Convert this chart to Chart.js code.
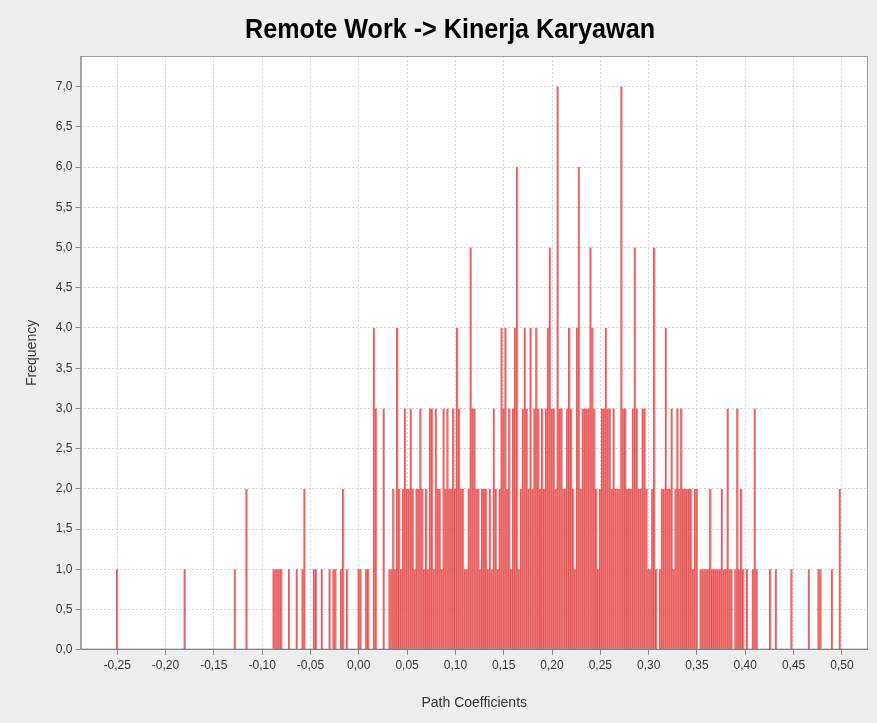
<!DOCTYPE html>
<html>
<head>
    <title>Remote Work -> Kinerja Karyawan</title>
    <script src="https://cdn.jsdelivr.net/npm/chart.js"></script>
    <style>
        html, body { margin: 0; padding: 0; background: #eeeeee; }
        #chart-container { position: relative; width: 877px; height: 723px; }
    </style>
</head>
<body>
    <div id="chart-container">
        <canvas id="myChart"></canvas>
    </div>

    <script>
        const chartTitle = 'Remote Work -> Kinerja Karyawan';
        const pathCoefficients = [
            -0.250, -0.180, -0.128, -0.116, -0.088, -0.086, -0.084, -0.082, -0.080, -0.072,
            -0.064, -0.058, -0.056, -0.046, -0.044, -0.038, -0.030, -0.026, -0.024, -0.018,
            -0.016, -0.012,
            0.000, 0.002, 0.008, 0.010, 0.016, 0.018, 0.026, 0.032, 0.034, 0.036,
            0.038, 0.040, 0.042, 0.044, 0.046, 0.048, 0.050, 0.052, 0.054, 0.056,
            0.058, 0.060, 0.062, 0.064, 0.066, 0.068, 0.070, 0.072, 0.074, 0.076,
            0.078, 0.080, 0.082, 0.084, 0.086, 0.088, 0.090, 0.092, 0.094, 0.096,
            0.098, 0.100, 0.102, 0.104, 0.106, 0.108, 0.110, 0.112, 0.114, 0.116,
            0.118, 0.120, 0.122, 0.124, 0.126, 0.128, 0.130, 0.132, 0.134, 0.136,
            0.138, 0.140, 0.142, 0.144, 0.146, 0.148, 0.150, 0.152, 0.154, 0.156,
            0.158, 0.160, 0.162, 0.164, 0.166, 0.168, 0.170, 0.172, 0.174, 0.176,
            0.178, 0.180, 0.182, 0.184, 0.186, 0.188, 0.190, 0.192, 0.194, 0.196,
            0.198, 0.200, 0.202, 0.204, 0.206, 0.208, 0.210, 0.212, 0.214, 0.216,
            0.218, 0.220, 0.222, 0.224, 0.226, 0.228, 0.230, 0.232, 0.234, 0.236,
            0.238, 0.240, 0.242, 0.244, 0.246, 0.248, 0.250, 0.252, 0.254, 0.256,
            0.258, 0.260, 0.262, 0.264, 0.266, 0.268, 0.270, 0.272, 0.274, 0.276,
            0.278, 0.280, 0.282, 0.284, 0.286, 0.288, 0.290, 0.292, 0.294, 0.296,
            0.298, 0.300, 0.302, 0.304, 0.306, 0.308, 0.312, 0.314, 0.316, 0.318,
            0.320, 0.322, 0.324, 0.326, 0.328, 0.330, 0.332, 0.334, 0.336, 0.338,
            0.340, 0.342, 0.344, 0.346, 0.348, 0.350, 0.354, 0.356, 0.358, 0.360,
            0.362, 0.364, 0.366, 0.368, 0.370, 0.372, 0.374, 0.376, 0.378, 0.380,
            0.382, 0.384, 0.386, 0.390, 0.392, 0.394, 0.396, 0.398, 0.402, 0.408,
            0.410, 0.412, 0.426, 0.432, 0.448, 0.466, 0.476, 0.478, 0.490, 0.498
        ];
        const frequency = [
            1, 1, 1, 2, 1, 1, 1, 1, 1, 1,
            1, 1, 2, 1, 1, 1, 1, 1, 1, 1,
            2, 1,
            1, 1, 1, 1, 4, 3, 3, 1, 1, 2,
            1, 4, 2, 1, 2, 3, 2, 2, 3, 2,
            1, 2, 2, 3, 2, 1, 2, 1, 3, 3,
            1, 3, 2, 2, 1, 3, 2, 3, 2, 2,
            3, 2, 4, 3, 2, 2, 1, 1, 2, 5,
            3, 3, 2, 2, 1, 2, 2, 2, 1, 2,
            1, 3, 2, 1, 2, 4, 3, 4, 2, 3,
            1, 3, 4, 6, 1, 2, 3, 4, 3, 2,
            4, 2, 3, 4, 3, 2, 3, 2, 3, 4,
            5, 3, 3, 2, 7, 3, 3, 2, 2, 3,
            4, 3, 2, 1, 4, 6, 2, 3, 3, 3,
            3, 5, 4, 3, 2, 1, 2, 3, 3, 4,
            3, 3, 2, 3, 2, 2, 2, 7, 3, 3,
            2, 2, 2, 3, 5, 3, 2, 2, 3, 3,
            2, 1, 1, 2, 5, 1, 1, 2, 2, 4,
            2, 2, 3, 1, 2, 3, 2, 3, 2, 2,
            2, 2, 2, 1, 2, 2, 1, 1, 1, 1,
            1, 2, 1, 1, 1, 1, 1, 2, 1, 1,
            3, 1, 1, 1, 3, 1, 2, 1, 1, 1,
            3, 1, 1, 1, 1, 1, 1, 1, 1, 2
        ];
        const xTickValues = [-0.25, -0.20, -0.15, -0.10, -0.05, 0.00, 0.05, 0.10, 0.15, 0.20, 0.25, 0.30, 0.35, 0.40, 0.45, 0.50];
        const yTickValues = [0, 0.5, 1, 1.5, 2, 2.5, 3, 3.5, 4, 4.5, 5, 5.5, 6, 6.5, 7];

        // Fondo gris, área blanca, marco y título estrecho
        const plotFrame = {
            id: 'plotFrame',
            beforeDraw(chart) {
                const { ctx, chartArea: a } = chart;
                ctx.save();
                ctx.fillStyle = '#eeeeee';
                ctx.fillRect(0, 0, chart.width, chart.height);
                ctx.fillStyle = '#ffffff';
                ctx.fillRect(a.left, a.top, a.right - a.left, a.bottom - a.top);
                ctx.restore();
            },
            afterDraw(chart) {
                const { ctx, chartArea: a } = chart;
                ctx.save();
                ctx.strokeStyle = '#a0a0a0';
                ctx.lineWidth = 1;
                ctx.strokeRect(a.left + 0.5, a.top + 0.5, a.right - a.left - 1, a.bottom - a.top - 1);
                ctx.strokeStyle = '#7a7a7a';
                ctx.beginPath();
                ctx.moveTo(a.left + 0.5, a.top);
                ctx.lineTo(a.left + 0.5, a.bottom - 0.5);
                ctx.lineTo(a.right, a.bottom - 0.5);
                ctx.stroke();

                // título en negrita comprimido horizontalmente
                ctx.font = 'bold 28px "Liberation Sans", Arial, sans-serif';
                ctx.fillStyle = '#000000';
                ctx.textAlign = 'center';
                ctx.textBaseline = 'alphabetic';
                const w = ctx.measureText(chartTitle).width;
                const sx = 410 / w;
                ctx.translate(450, 38);
                ctx.scale(sx, 1);
                ctx.fillText(chartTitle, 0, 0);
                ctx.restore();
            }
        };

        const comma = (v, d) => v.toFixed(d).replace('.', ',');

        Chart.defaults.font.family = '"Liberation Sans", Arial, sans-serif';
        Chart.defaults.color = '#333333';

        const ctx = document.getElementById('myChart').getContext('2d');
        new Chart(ctx, {
            type: 'bar',
            data: {
                datasets: [{
                    label: 'Frequency',
                    data: pathCoefficients.map((c, i) => ({ x: c, y: frequency[i] })),
                    backgroundColor: 'rgba(255, 100, 100, 0.75)',
                    borderColor: 'rgba(205, 70, 70, 0.85)',
                    borderWidth: { left: 1, right: 0, top: 0, bottom: 0 },
                    borderSkipped: false,
                    barThickness: 2.2
                }]
            },
            options: {
                responsive: true,
                maintainAspectRatio: false,
                animation: false,
                layout: { padding: { left: 24, right: 9, top: 56, bottom: 8 } },
                plugins: {
                    legend: { display: false },
                    tooltip: { enabled: false },
                    title: { display: false }
                },
                scales: {
                    x: {
                        type: 'linear',
                        offset: false,
                        min: -0.288,
                        max: 0.527,
                        afterBuildTicks: (scale) => { scale.ticks = xTickValues.map(v => ({ value: v })); },
                        ticks: {
                            autoSkip: false,
                            maxRotation: 0,
                            padding: 4,
                            font: { size: 12 },
                            callback: (v) => comma(v, 2)
                        },
                        grid: { color: '#d6d6d6', tickColor: '#888888', tickLength: 5, offset: false },
                        border: { display: false, dash: [2, 2] },
                        title: {
                            display: true,
                            text: 'Path Coefficients',
                            font: { size: 14 },
                            color: '#333333',
                            padding: { top: 18, bottom: 3 }
                        }
                    },
                    y: {
                        min: 0,
                        max: 7.38,
                        afterBuildTicks: (scale) => { scale.ticks = yTickValues.map(v => ({ value: v })); },
                        ticks: {
                            padding: 3,
                            font: { size: 12 },
                            callback: (v) => comma(v, 1)
                        },
                        grid: { color: '#d6d6d6', tickColor: '#888888', tickLength: 5 },
                        border: { display: false, dash: [2, 2] },
                        title: {
                            display: true,
                            text: 'Frequency',
                            font: { size: 14 },
                            color: '#333333',
                            padding: { top: 0, bottom: 12 }
                        }
                    }
                }
            },
            plugins: [plotFrame]
        });
    </script>
</body>
</html>
